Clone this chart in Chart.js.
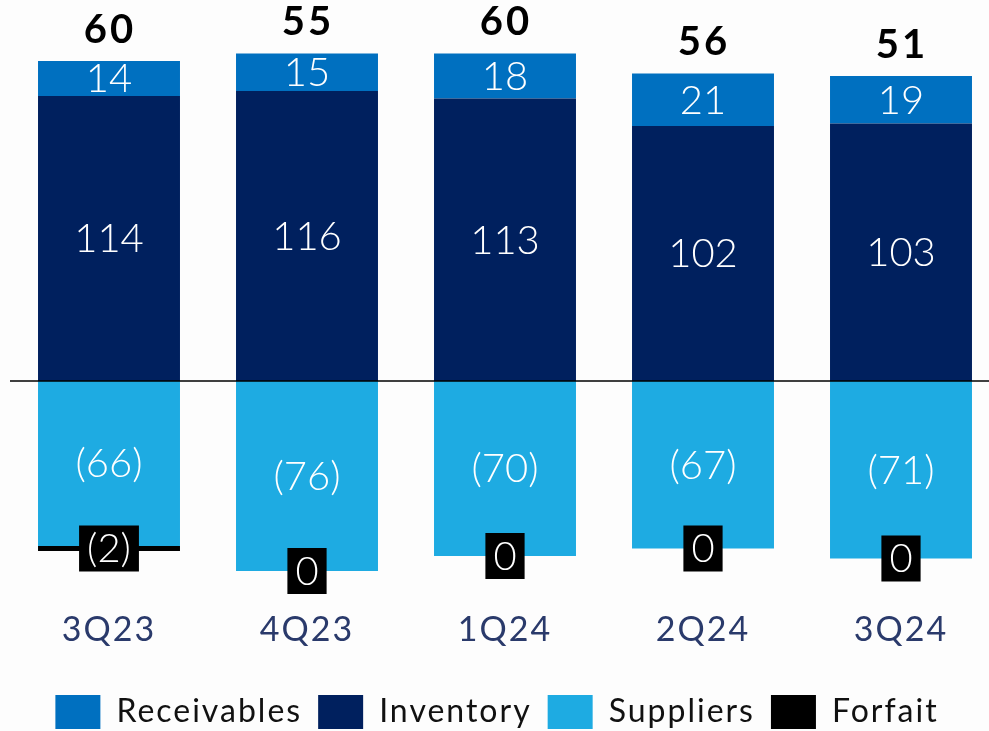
<!DOCTYPE html>
<html>
<head>
<meta charset="utf-8">
<script src="https://cdn.jsdelivr.net/npm/chart.js@4/dist/chart.umd.min.js"></script>
<style>
  html, body { margin: 0; padding: 0; background: #fdfdfd; overflow: hidden; }
</style>
</head>
<body>
<canvas id="wcChart" width="1000" height="739"></canvas>
<script>
const quarters = ['3Q23', '4Q23', '1Q24', '2Q24', '3Q24'];
const receivables = [14, 15, 18, 21, 19];
const inventory = [114, 116, 113, 102, 103];
const suppliers = [-66, -76, -70, -67, -71];
const forfait = [-2, 0, 0, 0, 0];
const totals = [60, 55, 60, 56, 51];
const legendOrder = ['Receivables', 'Inventory', 'Suppliers', 'Forfait'];

const FONT = 'Lato, "Open Sans", sans-serif';

function fmt(v) {
    return v < 0 ? '(' + Math.abs(v) + ')' : String(v);
}

// wider tracking for axis and legend text, legend nudged left
const spacingPlugin = {
    id: 'spacing',
    beforeUpdate(chart) { chart.ctx.letterSpacing = '2px'; },
    afterLayout(chart) {
        chart.legend.left -= 8;
        chart.legend.right -= 8;
    },
    beforeDraw(chart) { chart.ctx.letterSpacing = '2px'; }
};

// value labels, totals and the zero line
const labelPlugin = {
    id: 'labels',
    afterDatasetsDraw(chart) {
        const ctx = chart.ctx;
        const area = chart.chartArea;
        const y0 = chart.scales.y.getPixelForValue(0);
        const supMeta = chart.getDatasetMeta(2);

        ctx.save();
        ctx.strokeStyle = '#000';
        ctx.lineWidth = 1.5;
        ctx.beginPath();
        ctx.moveTo(area.left, y0);
        ctx.lineTo(chart.width, y0);
        ctx.stroke();

        ctx.textAlign = 'center';
        ctx.textBaseline = 'middle';

        chart.data.datasets.forEach((ds, di) => {
            const meta = chart.getDatasetMeta(di);
            meta.data.forEach((bar, i) => {
                const p = bar.getProps(['x', 'y', 'base'], true);
                let cy = (p.y + p.base) / 2;
                const txt = fmt(ds.data[i]);
                ctx.letterSpacing = '0px';
                ctx.font = '300 40px ' + FONT;
                if (ds.label === 'Forfait') {
                    // an empty forfait sits at the end of the suppliers bar
                    if (ds.data[i] === 0) cy = supMeta.data[i].getProps(['y'], true).y;
                    const w = ctx.measureText(txt).width + 16;
                    ctx.fillStyle = '#000';
                    ctx.fillRect(p.x - w / 2, cy - 23, w, 46);
                    ctx.fillStyle = '#fff';
                    ctx.fillText(txt, p.x, cy + 1);
                } else {
                    ctx.fillStyle = '#fff';
                    ctx.fillText(txt, p.x, cy + 1);
                }
                if (ds.label === 'Receivables') {
                    ctx.letterSpacing = '3px';
                    ctx.font = 'bold 40px ' + FONT;
                    ctx.fillStyle = '#000';
                    ctx.fillText(String(totals[i]), p.x + 1, p.y - 31);
                }
            });
        });
        ctx.restore();
    }
};

new Chart(document.getElementById('wcChart'), {
    type: 'bar',
    data: {
        labels: quarters,
        datasets: [
            { label: 'Inventory', data: inventory, backgroundColor: '#00205E' },
            { label: 'Receivables', data: receivables, backgroundColor: '#0070C0' },
            { label: 'Suppliers', data: suppliers, backgroundColor: '#1EABE2' },
            { label: 'Forfait', data: forfait, backgroundColor: '#000000' }
        ]
    },
    options: {
        responsive: false,
        animation: false,
        layout: { padding: { left: 10, right: 0, top: 0, bottom: 0 } },
        datasets: {
            bar: { categoryPercentage: 1, barPercentage: 0.717, borderWidth: 0 }
        },
        scales: {
            x: {
                stacked: true,
                grid: { display: false, drawTicks: false },
                border: { display: false },
                ticks: {
                    color: '#2A3A6B',
                    padding: 24,
                    font: { family: FONT, size: 34, lineHeight: '50px' }
                }
            },
            y: {
                stacked: true,
                display: false,
                min: -80,
                max: 152.4
            }
        },
        plugins: {
            legend: {
                position: 'bottom',
                labels: {
                    boxWidth: 45,
                    boxHeight: 34,
                    padding: 16,
                    color: '#111',
                    font: { family: FONT, size: 32 },
                    sort: (a, b) => legendOrder.indexOf(a.text) - legendOrder.indexOf(b.text)
                }
            },
            tooltip: { enabled: false }
        }
    },
    plugins: [spacingPlugin, labelPlugin]
});
</script>
</body>
</html>
